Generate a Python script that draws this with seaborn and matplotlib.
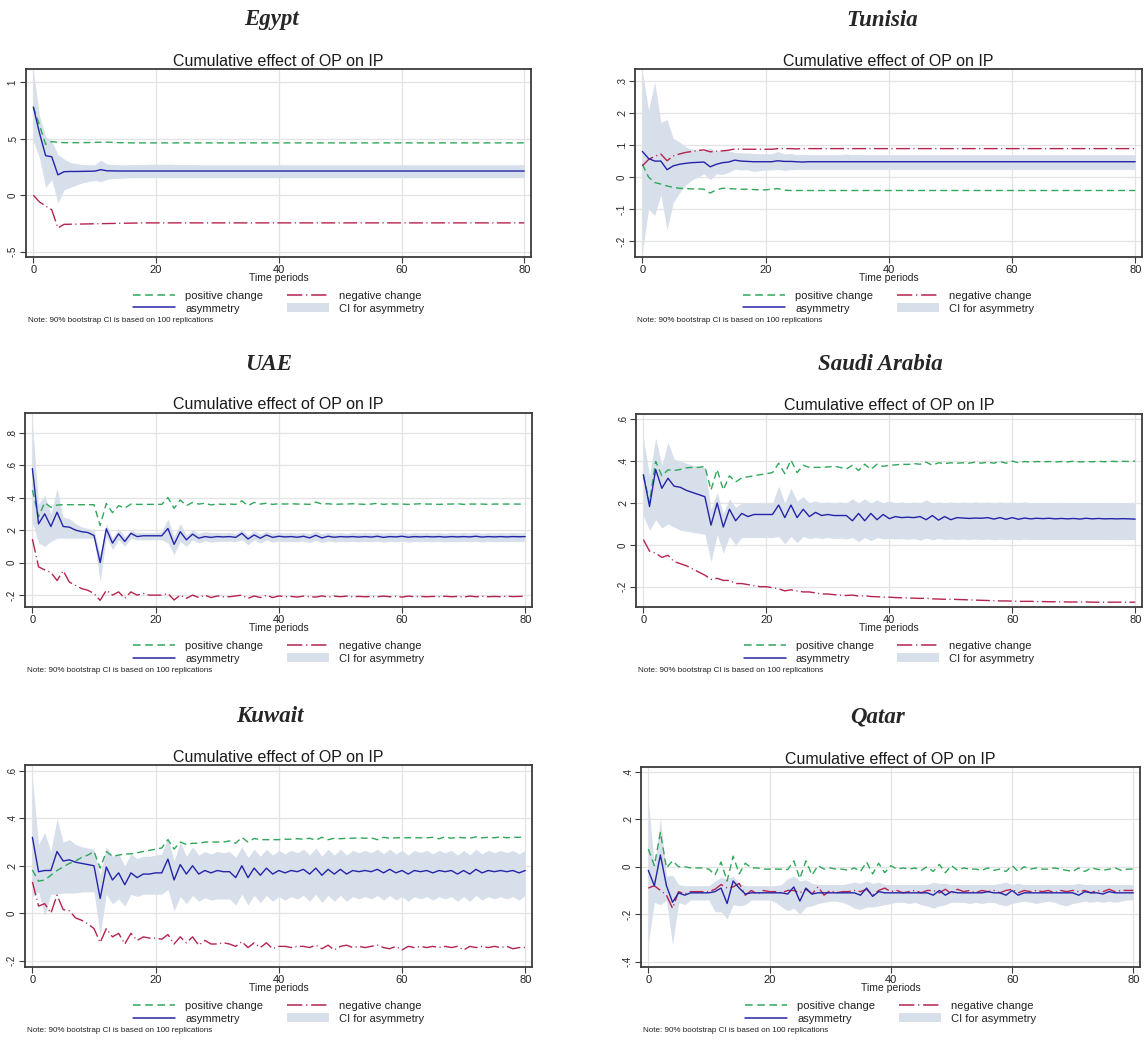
import matplotlib
matplotlib.use("Agg")
import matplotlib.pyplot as plt
import seaborn as sns
from matplotlib.lines import Line2D
from matplotlib.patches import Patch
from matplotlib.ticker import FuncFormatter, MultipleLocator

# --- Data: cumulative effect of OP on IP, periods 0..80 ---
periods = list(range(81))
countries = ["Egypt", "Tunisia", "UAE", "Saudi Arabia", "Kuwait", "Qatar"]

egypt_pos = [0.78, 0.62, 0.45, 0.475, 0.468, 0.465, 0.465, 0.465, 0.465, 0.466,
             0.467, 0.469, 0.47, 0.467, 0.465, 0.464, 0.463, 0.463, 0.463, 0.463,
             0.463, 0.463, 0.463, 0.463, 0.463, 0.463, 0.463, 0.463, 0.463, 0.463,
             0.463, 0.463, 0.463, 0.463, 0.463, 0.463, 0.463, 0.463, 0.463, 0.463,
             0.463, 0.463, 0.463, 0.463, 0.463, 0.463, 0.463, 0.463, 0.463, 0.463,
             0.463, 0.463, 0.463, 0.463, 0.463, 0.463, 0.463, 0.463, 0.463, 0.463,
             0.463, 0.463, 0.463, 0.463, 0.463, 0.463, 0.463, 0.463, 0.463, 0.463,
             0.463, 0.463, 0.463, 0.463, 0.463, 0.463, 0.463, 0.463, 0.463, 0.463,
             0.463]
egypt_neg = [0.0, -0.06, -0.095, -0.13, -0.29, -0.258, -0.257, -0.256, -0.255, -0.254,
             -0.253, -0.252, -0.251, -0.25, -0.249, -0.248, -0.247, -0.246, -0.245, -0.245,
             -0.245, -0.245, -0.245, -0.245, -0.245, -0.245, -0.245, -0.245, -0.245, -0.245,
             -0.245, -0.245, -0.245, -0.245, -0.245, -0.245, -0.245, -0.245, -0.245, -0.245,
             -0.245, -0.245, -0.245, -0.245, -0.245, -0.245, -0.245, -0.245, -0.245, -0.245,
             -0.245, -0.245, -0.245, -0.245, -0.245, -0.245, -0.245, -0.245, -0.245, -0.245,
             -0.245, -0.245, -0.245, -0.245, -0.245, -0.245, -0.245, -0.245, -0.245, -0.245,
             -0.245, -0.245, -0.245, -0.245, -0.245, -0.245, -0.245, -0.245, -0.245, -0.245,
             -0.245]
egypt_asym = [0.78, 0.55, 0.35, 0.34, 0.18, 0.208, 0.21, 0.21, 0.211, 0.212,
              0.213, 0.226, 0.216, 0.215, 0.214, 0.214, 0.214, 0.214, 0.214, 0.214,
              0.214, 0.214, 0.214, 0.214, 0.214, 0.214, 0.214, 0.214, 0.214, 0.214,
              0.214, 0.214, 0.214, 0.214, 0.214, 0.214, 0.214, 0.214, 0.214, 0.214,
              0.214, 0.214, 0.214, 0.214, 0.214, 0.214, 0.214, 0.214, 0.214, 0.214,
              0.214, 0.214, 0.214, 0.214, 0.214, 0.214, 0.214, 0.214, 0.214, 0.214,
              0.214, 0.214, 0.214, 0.214, 0.214, 0.214, 0.214, 0.214, 0.214, 0.214,
              0.214, 0.214, 0.214, 0.214, 0.214, 0.214, 0.214, 0.214, 0.214, 0.214,
              0.214]
egypt_hi = [1.1, 0.7, 0.52, 0.48, 0.36, 0.32, 0.29, 0.28, 0.272, 0.27,
            0.27, 0.31, 0.276, 0.272, 0.27, 0.27, 0.27, 0.272, 0.272, 0.274,
            0.275, 0.274, 0.275, 0.273, 0.272, 0.272, 0.271, 0.27, 0.27, 0.27,
            0.27, 0.27, 0.27, 0.27, 0.27, 0.27, 0.27, 0.27, 0.27, 0.27,
            0.27, 0.27, 0.27, 0.27, 0.27, 0.27, 0.27, 0.27, 0.27, 0.27,
            0.27, 0.27, 0.27, 0.27, 0.27, 0.27, 0.27, 0.27, 0.27, 0.27,
            0.27, 0.27, 0.27, 0.27, 0.27, 0.27, 0.27, 0.27, 0.27, 0.27,
            0.27, 0.27, 0.27, 0.27, 0.27, 0.27, 0.27, 0.27, 0.27, 0.27,
            0.27]
egypt_lo = [0.48, 0.33, 0.067, 0.14, -0.07, 0.047, 0.07, 0.09, 0.11, 0.12,
            0.13, 0.12, 0.14, 0.148, 0.15, 0.152, 0.155, 0.155, 0.155, 0.155,
            0.155, 0.155, 0.155, 0.155, 0.155, 0.155, 0.155, 0.155, 0.155, 0.155,
            0.155, 0.155, 0.155, 0.155, 0.155, 0.155, 0.155, 0.155, 0.155, 0.155,
            0.155, 0.155, 0.155, 0.155, 0.155, 0.155, 0.155, 0.155, 0.155, 0.155,
            0.155, 0.155, 0.155, 0.155, 0.155, 0.155, 0.155, 0.155, 0.155, 0.155,
            0.155, 0.155, 0.155, 0.155, 0.155, 0.155, 0.155, 0.155, 0.155, 0.155,
            0.155, 0.155, 0.155, 0.155, 0.155, 0.155, 0.155, 0.155, 0.155, 0.155,
            0.155]

tunisia_pos = [0.04, 0.0, -0.017, -0.022, -0.028, -0.032, -0.035, -0.036, -0.037, -0.037,
               -0.038, -0.05, -0.04, -0.035, -0.036, -0.037, -0.038, -0.038, -0.039, -0.04,
               -0.04, -0.038, -0.036, -0.041, -0.042, -0.042, -0.042, -0.042, -0.042, -0.042,
               -0.042, -0.042, -0.042, -0.042, -0.042, -0.042, -0.042, -0.042, -0.042, -0.042,
               -0.042, -0.042, -0.042, -0.042, -0.042, -0.042, -0.042, -0.042, -0.042, -0.042,
               -0.042, -0.042, -0.042, -0.042, -0.042, -0.042, -0.042, -0.042, -0.042, -0.042,
               -0.042, -0.042, -0.042, -0.042, -0.042, -0.042, -0.042, -0.042, -0.042, -0.042,
               -0.042, -0.042, -0.042, -0.042, -0.042, -0.042, -0.042, -0.042, -0.042, -0.042,
               -0.042]
tunisia_neg = [0.035, 0.055, 0.065, 0.072, 0.051, 0.066, 0.072, 0.077, 0.08, 0.083,
               0.085, 0.079, 0.081, 0.082, 0.084, 0.088, 0.087, 0.087, 0.087, 0.087,
               0.087, 0.087, 0.089, 0.089, 0.089, 0.088, 0.089, 0.089, 0.089, 0.089,
               0.089, 0.089, 0.089, 0.089, 0.089, 0.089, 0.089, 0.089, 0.089, 0.089,
               0.089, 0.089, 0.089, 0.089, 0.089, 0.089, 0.089, 0.089, 0.089, 0.089,
               0.089, 0.089, 0.089, 0.089, 0.089, 0.089, 0.089, 0.089, 0.089, 0.089,
               0.089, 0.089, 0.089, 0.089, 0.089, 0.089, 0.089, 0.089, 0.089, 0.089,
               0.089, 0.089, 0.089, 0.089, 0.089, 0.089, 0.089, 0.089, 0.089, 0.089,
               0.089]
tunisia_asym = [0.08, 0.058, 0.05, 0.05, 0.023, 0.035, 0.04, 0.043, 0.045, 0.046,
                0.047, 0.032, 0.04, 0.045, 0.047, 0.053, 0.05, 0.049, 0.048, 0.048,
                0.048, 0.048, 0.051, 0.049, 0.049, 0.048, 0.047, 0.048, 0.048, 0.048,
                0.048, 0.048, 0.048, 0.048, 0.048, 0.048, 0.048, 0.048, 0.048, 0.048,
                0.048, 0.048, 0.048, 0.048, 0.048, 0.048, 0.048, 0.048, 0.048, 0.048,
                0.048, 0.048, 0.048, 0.048, 0.048, 0.048, 0.048, 0.048, 0.048, 0.048,
                0.048, 0.048, 0.048, 0.048, 0.048, 0.048, 0.048, 0.048, 0.048, 0.048,
                0.048, 0.048, 0.048, 0.048, 0.048, 0.048, 0.048, 0.048, 0.048, 0.048,
                0.048]
tunisia_hi = [0.33, 0.21, 0.297, 0.171, 0.18, 0.121, 0.11, 0.095, 0.088, 0.085,
              0.082, 0.092, 0.08, 0.086, 0.082, 0.077, 0.076, 0.075, 0.074, 0.073,
              0.073, 0.073, 0.08, 0.072, 0.074, 0.07, 0.071, 0.07, 0.07, 0.07,
              0.07, 0.07, 0.07, 0.072, 0.07, 0.071, 0.07, 0.07, 0.07, 0.07,
              0.07, 0.07, 0.07, 0.07, 0.07, 0.07, 0.07, 0.07, 0.07, 0.07,
              0.07, 0.07, 0.07, 0.07, 0.07, 0.07, 0.07, 0.07, 0.07, 0.07,
              0.07, 0.07, 0.07, 0.07, 0.07, 0.07, 0.07, 0.07, 0.07, 0.07,
              0.07, 0.07, 0.07, 0.07, 0.07, 0.07, 0.07, 0.07, 0.07, 0.07,
              0.07]
tunisia_lo = [-0.234, -0.1, -0.12, -0.055, -0.165, -0.08, -0.05, -0.025, -0.01, 0.0,
              0.01, -0.008, 0.01, 0.008, 0.015, 0.025, 0.022, 0.023, 0.018, 0.02,
              0.022, 0.022, 0.024, 0.021, 0.023, 0.024, 0.024, 0.024, 0.024, 0.024,
              0.024, 0.024, 0.024, 0.024, 0.024, 0.024, 0.024, 0.024, 0.024, 0.024,
              0.024, 0.024, 0.024, 0.024, 0.024, 0.024, 0.024, 0.024, 0.024, 0.024,
              0.024, 0.024, 0.024, 0.024, 0.024, 0.024, 0.024, 0.024, 0.024, 0.024,
              0.024, 0.024, 0.024, 0.024, 0.024, 0.024, 0.024, 0.024, 0.024, 0.024,
              0.024, 0.024, 0.024, 0.024, 0.024, 0.024, 0.024, 0.024, 0.024, 0.024,
              0.024]

uae_pos = [0.446, 0.283, 0.369, 0.34, 0.354, 0.356, 0.356, 0.356, 0.356, 0.356,
           0.356, 0.228, 0.364, 0.307, 0.35, 0.335, 0.36, 0.358, 0.358, 0.358,
           0.358, 0.358, 0.40, 0.334, 0.385, 0.35, 0.37, 0.36, 0.365, 0.355,
           0.36, 0.358, 0.36, 0.358, 0.38, 0.35, 0.37, 0.36, 0.365, 0.358,
           0.362, 0.36, 0.362, 0.36, 0.36, 0.358, 0.372, 0.36, 0.362, 0.358,
           0.36, 0.36, 0.362, 0.36, 0.358, 0.36, 0.365, 0.358, 0.362, 0.36,
           0.36, 0.358, 0.36, 0.362, 0.36, 0.36, 0.358, 0.36, 0.36, 0.362,
           0.358, 0.36, 0.36, 0.36, 0.358, 0.36, 0.36, 0.36, 0.36, 0.36,
           0.36]
uae_neg = [0.145, -0.026, -0.045, -0.06, -0.11, -0.05, -0.12, -0.14, -0.16, -0.17,
           -0.19, -0.232, -0.17, -0.2, -0.18, -0.22, -0.18, -0.2, -0.19, -0.2,
           -0.2, -0.2, -0.19, -0.23, -0.2, -0.22, -0.2, -0.215, -0.2, -0.215,
           -0.205, -0.21, -0.21, -0.205, -0.2, -0.22, -0.205, -0.215, -0.2, -0.215,
           -0.205, -0.21, -0.208, -0.212, -0.206, -0.21, -0.212, -0.205, -0.212, -0.206,
           -0.21, -0.206, -0.21, -0.208, -0.21, -0.208, -0.21, -0.206, -0.21, -0.208,
           -0.212, -0.206, -0.21, -0.208, -0.21, -0.208, -0.21, -0.207, -0.21, -0.208,
           -0.212, -0.206, -0.21, -0.207, -0.21, -0.208, -0.21, -0.207, -0.209, -0.208,
           -0.207]
uae_asym = [0.578, 0.238, 0.30, 0.222, 0.31, 0.222, 0.218, 0.20, 0.19, 0.185,
            0.167, 0.0, 0.208, 0.12, 0.177, 0.13, 0.18, 0.16, 0.165, 0.165,
            0.165, 0.165, 0.21, 0.112, 0.19, 0.14, 0.175, 0.15, 0.16, 0.155,
            0.16, 0.158, 0.16, 0.155, 0.18, 0.145, 0.17, 0.15, 0.17, 0.155,
            0.162, 0.158, 0.16, 0.156, 0.162, 0.152, 0.168, 0.152, 0.162, 0.156,
            0.16, 0.158, 0.16, 0.157, 0.16, 0.157, 0.162, 0.155, 0.16, 0.158,
            0.162, 0.156, 0.16, 0.158, 0.16, 0.158, 0.16, 0.157, 0.16, 0.158,
            0.16, 0.158, 0.162, 0.157, 0.16, 0.158, 0.16, 0.158, 0.16, 0.159,
            0.16]
uae_hi = [0.86, 0.36, 0.415, 0.30, 0.456, 0.28, 0.27, 0.24, 0.22, 0.21,
          0.20, 0.05, 0.24, 0.15, 0.21, 0.16, 0.20, 0.185, 0.185, 0.185,
          0.185, 0.19, 0.27, 0.16, 0.24, 0.17, 0.20, 0.18, 0.19, 0.185,
          0.185, 0.183, 0.185, 0.18, 0.20, 0.17, 0.195, 0.175, 0.192, 0.18,
          0.186, 0.182, 0.185, 0.18, 0.186, 0.178, 0.192, 0.178, 0.186, 0.18,
          0.185, 0.18, 0.186, 0.182, 0.185, 0.182, 0.186, 0.18, 0.185, 0.182,
          0.186, 0.18, 0.185, 0.182, 0.185, 0.182, 0.185, 0.181, 0.185, 0.182,
          0.185, 0.182, 0.186, 0.181, 0.185, 0.182, 0.185, 0.182, 0.185, 0.183,
          0.185]
uae_lo = [0.25, 0.12, 0.10, 0.13, 0.15, 0.15, 0.15, 0.15, 0.15, 0.15,
          0.15, -0.12, 0.16, 0.08, 0.14, 0.10, 0.15, 0.14, 0.14, 0.14,
          0.14, 0.14, 0.12, 0.05, 0.13, 0.10, 0.14, 0.12, 0.135, 0.125,
          0.13, 0.13, 0.132, 0.128, 0.14, 0.11, 0.14, 0.12, 0.14, 0.125,
          0.132, 0.128, 0.13, 0.128, 0.134, 0.122, 0.138, 0.122, 0.133, 0.127,
          0.13, 0.128, 0.131, 0.128, 0.13, 0.128, 0.132, 0.126, 0.13, 0.128,
          0.132, 0.126, 0.13, 0.128, 0.13, 0.128, 0.13, 0.127, 0.13, 0.128,
          0.13, 0.128, 0.132, 0.127, 0.13, 0.128, 0.13, 0.128, 0.13, 0.129,
          0.13]

saudi_pos = [0.331, 0.202, 0.398, 0.33, 0.358, 0.355, 0.36, 0.368, 0.37, 0.37,
             0.375, 0.262, 0.36, 0.262, 0.33, 0.30, 0.32, 0.325, 0.33, 0.335,
             0.34, 0.345, 0.39, 0.34, 0.405, 0.345, 0.38, 0.37, 0.37, 0.37,
             0.372, 0.375, 0.37, 0.362, 0.38, 0.355, 0.385, 0.36, 0.385, 0.375,
             0.38, 0.382, 0.385, 0.384, 0.388, 0.385, 0.395, 0.38, 0.392, 0.388,
             0.392, 0.39, 0.392, 0.39, 0.395, 0.39, 0.395, 0.39, 0.398, 0.39,
             0.40, 0.392, 0.398, 0.395, 0.398, 0.396, 0.398, 0.396, 0.398, 0.396,
             0.40, 0.396, 0.398, 0.397, 0.399, 0.397, 0.399, 0.398, 0.399, 0.398,
             0.40]
saudi_neg = [0.025, -0.03, -0.04, -0.06, -0.05, -0.08, -0.09, -0.10, -0.115, -0.13,
             -0.145, -0.165, -0.16, -0.17, -0.17, -0.185, -0.185, -0.19, -0.195, -0.20,
             -0.20, -0.205, -0.21, -0.22, -0.215, -0.22, -0.225, -0.225, -0.23, -0.235,
             -0.235, -0.238, -0.24, -0.242, -0.24, -0.245, -0.243, -0.247, -0.248, -0.25,
             -0.25, -0.252, -0.253, -0.254, -0.255, -0.256, -0.255, -0.258, -0.259, -0.26,
             -0.26, -0.261, -0.262, -0.263, -0.264, -0.265, -0.266, -0.267, -0.268, -0.268,
             -0.269, -0.27, -0.27, -0.27, -0.271, -0.271, -0.272, -0.272, -0.272, -0.273,
             -0.273, -0.273, -0.273, -0.274, -0.274, -0.274, -0.274, -0.274, -0.274, -0.274,
             -0.274]
saudi_asym = [0.335, 0.183, 0.36, 0.27, 0.318, 0.28, 0.275, 0.26, 0.25, 0.24,
              0.23, 0.094, 0.20, 0.085, 0.17, 0.115, 0.15, 0.135, 0.145, 0.145,
              0.145, 0.145, 0.19, 0.13, 0.19, 0.13, 0.17, 0.135, 0.155, 0.14,
              0.145, 0.14, 0.14, 0.14, 0.115, 0.15, 0.115, 0.15, 0.12, 0.145,
              0.125, 0.135, 0.13, 0.132, 0.13, 0.135, 0.12, 0.14, 0.118, 0.135,
              0.12, 0.13, 0.128, 0.126, 0.128, 0.127, 0.13, 0.123, 0.13, 0.122,
              0.13, 0.122, 0.128, 0.124, 0.127, 0.125, 0.127, 0.124, 0.126, 0.124,
              0.126, 0.123, 0.127, 0.124, 0.126, 0.124, 0.125, 0.124, 0.125, 0.124,
              0.123]
saudi_hi = [0.51, 0.33, 0.51, 0.38, 0.49, 0.41, 0.40, 0.39, 0.38, 0.375,
            0.37, 0.17, 0.25, 0.15, 0.22, 0.18, 0.20, 0.20, 0.20, 0.20,
            0.20, 0.20, 0.28, 0.20, 0.27, 0.21, 0.23, 0.20, 0.21, 0.20,
            0.205, 0.20, 0.205, 0.20, 0.22, 0.20, 0.22, 0.20, 0.215, 0.20,
            0.21, 0.20, 0.205, 0.20, 0.205, 0.20, 0.215, 0.20, 0.205, 0.20,
            0.205, 0.20, 0.205, 0.20, 0.205, 0.20, 0.205, 0.20, 0.205, 0.20,
            0.205, 0.20, 0.205, 0.20, 0.203, 0.20, 0.203, 0.20, 0.203, 0.20,
            0.203, 0.20, 0.203, 0.20, 0.202, 0.20, 0.202, 0.20, 0.202, 0.20,
            0.20]
saudi_lo = [0.138, 0.07, 0.12, 0.08, 0.10, 0.085, 0.07, 0.065, 0.06, 0.055,
            0.05, -0.08, 0.05, -0.04, 0.04, 0.0, 0.035, 0.035, 0.035, 0.035,
            0.035, 0.035, 0.04, 0.005, 0.04, 0.01, 0.04, 0.03, 0.035, 0.03,
            0.035, 0.03, 0.032, 0.028, 0.035, 0.015, 0.035, 0.02, 0.035, 0.028,
            0.03, 0.028, 0.03, 0.026, 0.03, 0.022, 0.032, 0.024, 0.03, 0.026,
            0.028, 0.026, 0.028, 0.025, 0.028, 0.025, 0.028, 0.024, 0.027, 0.025,
            0.027, 0.024, 0.027, 0.025, 0.026, 0.025, 0.026, 0.025, 0.026, 0.025,
            0.026, 0.025, 0.026, 0.025, 0.026, 0.025, 0.025, 0.025, 0.025, 0.025,
            0.025]

kuwait_pos = [0.182, 0.135, 0.14, 0.16, 0.18, 0.195, 0.21, 0.22, 0.235, 0.245,
              0.26, 0.19, 0.26, 0.24, 0.245, 0.25, 0.25, 0.255, 0.26, 0.265,
              0.27, 0.275, 0.31, 0.27, 0.30, 0.29, 0.295, 0.295, 0.30, 0.30,
              0.30, 0.30, 0.305, 0.295, 0.32, 0.30, 0.315, 0.31, 0.31, 0.31,
              0.31, 0.312, 0.312, 0.314, 0.312, 0.316, 0.308, 0.32, 0.31, 0.316,
              0.314, 0.316, 0.316, 0.318, 0.316, 0.318, 0.31, 0.32, 0.316, 0.318,
              0.318, 0.318, 0.318, 0.318, 0.318, 0.32, 0.314, 0.322, 0.316, 0.32,
              0.318, 0.316, 0.322, 0.318, 0.32, 0.318, 0.322, 0.318, 0.32, 0.32,
              0.322]
kuwait_neg = [0.132, 0.03, 0.04, 0.0, 0.076, 0.015, 0.01, -0.02, -0.03, -0.045,
              -0.065, -0.124, -0.065, -0.10, -0.085, -0.13, -0.085, -0.115, -0.10, -0.105,
              -0.105, -0.11, -0.09, -0.13, -0.10, -0.125, -0.10, -0.135, -0.115, -0.13,
              -0.13, -0.125, -0.13, -0.14, -0.12, -0.145, -0.125, -0.145, -0.125, -0.15,
              -0.14, -0.14, -0.145, -0.14, -0.14, -0.145, -0.135, -0.15, -0.135, -0.155,
              -0.14, -0.135, -0.145, -0.14, -0.145, -0.14, -0.135, -0.145, -0.15, -0.14,
              -0.155, -0.14, -0.145, -0.14, -0.145, -0.14, -0.145, -0.14, -0.145, -0.14,
              -0.155, -0.14, -0.145, -0.14, -0.145, -0.14, -0.145, -0.14, -0.15, -0.145,
              -0.145]
kuwait_asym = [0.32, 0.175, 0.18, 0.18, 0.26, 0.22, 0.225, 0.215, 0.21, 0.205,
               0.20, 0.062, 0.195, 0.14, 0.17, 0.12, 0.17, 0.15, 0.165, 0.165,
               0.17, 0.17, 0.228, 0.14, 0.205, 0.165, 0.20, 0.165, 0.18, 0.17,
               0.18, 0.175, 0.175, 0.15, 0.20, 0.15, 0.19, 0.16, 0.19, 0.165,
               0.18, 0.17, 0.18, 0.175, 0.185, 0.165, 0.19, 0.16, 0.185, 0.165,
               0.185, 0.165, 0.18, 0.175, 0.18, 0.175, 0.185, 0.17, 0.185, 0.17,
               0.18, 0.165, 0.18, 0.175, 0.18, 0.17, 0.18, 0.175, 0.18, 0.165,
               0.18, 0.165, 0.185, 0.17, 0.18, 0.175, 0.18, 0.175, 0.18, 0.17,
               0.18]
kuwait_hi = [0.57, 0.29, 0.34, 0.26, 0.40, 0.30, 0.31, 0.29, 0.28, 0.275,
             0.27, 0.16, 0.28, 0.24, 0.25, 0.20, 0.25, 0.23, 0.24, 0.24,
             0.245, 0.25, 0.32, 0.22, 0.30, 0.24, 0.28, 0.245, 0.26, 0.25,
             0.26, 0.255, 0.26, 0.235, 0.28, 0.235, 0.27, 0.24, 0.27, 0.245,
             0.265, 0.25, 0.265, 0.255, 0.27, 0.245, 0.275, 0.24, 0.27, 0.245,
             0.27, 0.245, 0.265, 0.255, 0.265, 0.255, 0.27, 0.25, 0.27, 0.25,
             0.265, 0.245, 0.265, 0.255, 0.265, 0.25, 0.265, 0.255, 0.265, 0.245,
             0.265, 0.245, 0.27, 0.25, 0.265, 0.255, 0.265, 0.255, 0.265, 0.25,
             0.265]
kuwait_lo = [0.07, 0.09, -0.01, 0.08, 0.08, 0.085, 0.085, 0.085, 0.09, 0.09,
             0.09, -0.093, 0.08, 0.04, 0.06, 0.03, 0.08, 0.07, 0.08, 0.08,
             0.08, 0.08, 0.10, 0.01, 0.07, 0.04, 0.075, 0.05, 0.065, 0.055,
             0.06, 0.06, 0.06, 0.035, 0.08, 0.035, 0.075, 0.045, 0.075, 0.05,
             0.07, 0.055, 0.07, 0.06, 0.075, 0.05, 0.08, 0.045, 0.075, 0.05,
             0.075, 0.05, 0.07, 0.06, 0.07, 0.06, 0.075, 0.055, 0.075, 0.055,
             0.07, 0.05, 0.07, 0.06, 0.07, 0.055, 0.07, 0.06, 0.07, 0.05,
             0.07, 0.05, 0.075, 0.055, 0.07, 0.06, 0.07, 0.06, 0.07, 0.055,
             0.075]

qatar_pos = [0.075, 0.005, 0.145, -0.005, 0.025, 0.0, 0.0, -0.005, -0.005, -0.005,
             -0.01, -0.035, 0.02, -0.06, 0.045, -0.03, 0.015, -0.005, -0.005, -0.01,
             -0.01, -0.01, -0.01, -0.012, 0.025, -0.05, 0.025, -0.035, 0.005, -0.01,
             -0.005, -0.01, -0.01, -0.015, -0.005, -0.02, 0.02, -0.03, 0.015, -0.025,
             0.005, -0.01, -0.005, -0.01, -0.005, -0.015, 0.0, -0.02, 0.01, -0.025,
             0.005, -0.015, -0.005, -0.01, -0.01, -0.015, -0.005, -0.015, -0.01, -0.02,
             0.005, -0.02, 0.0, -0.01, -0.005, -0.01, -0.01, -0.005, -0.01, -0.015,
             -0.02, -0.005, -0.02, -0.005, -0.01, -0.015, -0.01, -0.005, -0.015, -0.01,
             -0.01]
qatar_neg = [-0.09, -0.08, -0.10, -0.12, -0.175, -0.105, -0.115, -0.105, -0.105, -0.105,
             -0.105, -0.095, -0.075, -0.09, -0.085, -0.07, -0.12, -0.10, -0.115, -0.10,
             -0.105, -0.105, -0.11, -0.10, -0.10, -0.11, -0.095, -0.115, -0.085, -0.12,
             -0.10, -0.11, -0.105, -0.105, -0.10, -0.105, -0.095, -0.12, -0.10, -0.09,
             -0.105, -0.10, -0.11, -0.105, -0.10, -0.11, -0.10, -0.10, -0.11, -0.095,
             -0.115, -0.095, -0.105, -0.10, -0.11, -0.10, -0.105, -0.10, -0.11, -0.10,
             -0.095, -0.11, -0.10, -0.105, -0.10, -0.105, -0.10, -0.11, -0.10, -0.105,
             -0.10, -0.105, -0.10, -0.11, -0.10, -0.105, -0.095, -0.105, -0.10, -0.10,
             -0.10]
qatar_asym = [-0.015, -0.08, 0.05, -0.08, -0.15, -0.11, -0.12, -0.11, -0.11, -0.11,
              -0.11, -0.105, -0.09, -0.155, -0.06, -0.09, -0.115, -0.11, -0.11, -0.11,
              -0.11, -0.11, -0.11, -0.115, -0.085, -0.145, -0.09, -0.115, -0.11, -0.11,
              -0.11, -0.11, -0.11, -0.11, -0.11, -0.12, -0.09, -0.125, -0.105, -0.11,
              -0.11, -0.11, -0.11, -0.11, -0.11, -0.11, -0.11, -0.12, -0.10, -0.12,
              -0.105, -0.11, -0.11, -0.11, -0.11, -0.11, -0.105, -0.11, -0.11, -0.12,
              -0.10, -0.12, -0.11, -0.11, -0.11, -0.11, -0.11, -0.11, -0.11, -0.11,
              -0.11, -0.12, -0.105, -0.11, -0.11, -0.115, -0.105, -0.11, -0.11, -0.11,
              -0.11]
qatar_hi = [0.285, 0.0, 0.205, -0.04, -0.035, -0.075, -0.08, -0.08, -0.08, -0.08,
            -0.08, -0.06, -0.045, -0.05, -0.04, -0.07, -0.08, -0.08, -0.08, -0.08,
            -0.08, -0.08, -0.075, -0.05, -0.04, -0.06, -0.055, -0.07, -0.075, -0.075,
            -0.075, -0.075, -0.075, -0.07, -0.065, -0.07, -0.06, -0.07, -0.065, -0.075,
            -0.075, -0.075, -0.075, -0.075, -0.075, -0.075, -0.075, -0.065, -0.07, -0.07,
            -0.075, -0.075, -0.075, -0.075, -0.075, -0.075, -0.075, -0.075, -0.07, -0.065,
            -0.075, -0.07, -0.075, -0.075, -0.075, -0.075, -0.075, -0.075, -0.075, -0.075,
            -0.075, -0.07, -0.075, -0.075, -0.075, -0.075, -0.075, -0.075, -0.075, -0.075,
            -0.075]
qatar_lo = [-0.325, -0.15, -0.16, -0.14, -0.33, -0.15, -0.16, -0.14, -0.14, -0.14,
            -0.14, -0.19, -0.19, -0.22, -0.16, -0.165, -0.16, -0.14, -0.14, -0.14,
            -0.14, -0.15, -0.17, -0.185, -0.175, -0.20, -0.17, -0.165, -0.155, -0.15,
            -0.145, -0.145, -0.15, -0.16, -0.175, -0.18, -0.17, -0.17, -0.165, -0.16,
            -0.155, -0.15, -0.15, -0.155, -0.15, -0.16, -0.165, -0.175, -0.165, -0.16,
            -0.15, -0.15, -0.15, -0.155, -0.15, -0.155, -0.15, -0.15, -0.16, -0.165,
            -0.155, -0.15, -0.145, -0.15, -0.155, -0.15, -0.145, -0.15, -0.16, -0.165,
            -0.155, -0.15, -0.145, -0.15, -0.145, -0.15, -0.145, -0.15, -0.145, -0.14,
            -0.14]

series = {
    "Egypt": (egypt_pos, egypt_neg, egypt_asym, egypt_lo, egypt_hi),
    "Tunisia": (tunisia_pos, tunisia_neg, tunisia_asym, tunisia_lo, tunisia_hi),
    "UAE": (uae_pos, uae_neg, uae_asym, uae_lo, uae_hi),
    "Saudi Arabia": (saudi_pos, saudi_neg, saudi_asym, saudi_lo, saudi_hi),
    "Kuwait": (kuwait_pos, kuwait_neg, kuwait_asym, kuwait_lo, kuwait_hi),
    "Qatar": (qatar_pos, qatar_neg, qatar_asym, qatar_lo, qatar_hi),
}
for name, arrs in series.items():
    assert all(len(a) == len(periods) for a in arrs), name

# --- Layout (pixels): axes box left, top, right, bottom; y range; y tick step ---
layout = {
    "Egypt":        dict(box=(26, 69, 531, 257),   ylim=(-0.547, 1.117), ystep=0.5, title_x=272),
    "Tunisia":      dict(box=(635, 69, 1142, 257), ylim=(-0.25, 0.338),  ystep=0.1, title_x=882),
    "UAE":          dict(box=(25, 413, 532, 607),  ylim=(-0.273, 0.92),  ystep=0.2, title_x=269),
    "Saudi Arabia": dict(box=(636, 414, 1142, 607), ylim=(-0.297, 0.625), ystep=0.2, title_x=880),
    "Kuwait":       dict(box=(25, 765, 532, 967),  ylim=(-0.227, 0.625), ystep=0.2, title_x=270),
    "Qatar":        dict(box=(641, 767, 1140, 967), ylim=(-0.423, 0.421), ystep=0.2, title_x=878),
}
country_title_y = {"Egypt": 20, "Tunisia": 20, "UAE": 364, "Saudi Arabia": 364, "Kuwait": 717, "Qatar": 717}

C_POS = "#2fa85a"
C_NEG = "#b5234f"
C_ASY = "#2424a8"
C_CI = "#d7dfeb"
POS_DASH = (0, (5, 3))
NEG_DASH = (0, (10, 2.5, 0.8, 2.5))

sns.set_theme(style="white")
plt.rcParams['font.family'] = ['Liberation Sans', 'DejaVu Sans']

W, H = 1144, 1041
fig = plt.figure(figsize=(W / 100, H / 100), dpi=100)


def stata_fmt(v, _):
    s = f"{round(v, 6):g}"
    if s.startswith("0."):
        s = s[1:]
    elif s.startswith("-0."):
        s = "-" + s[2:]
    return s


legend_handles = [
    Line2D([], [], color=C_POS, lw=1.1, linestyle=POS_DASH),
    Line2D([], [], color=C_ASY, lw=1.1),
    Line2D([], [], color=C_NEG, lw=1.1, linestyle=NEG_DASH),
    Patch(facecolor=C_CI, edgecolor="none"),
]
legend_labels = ["positive change", "asymmetry", "negative change", "CI for asymmetry"]

for name in countries:
    pos, neg, asym, lo, hi = series[name]
    lay = layout[name]
    l, t, r, b = lay["box"]
    ax = fig.add_axes([l / W, 1 - b / H, (r - l) / W, (b - t) / H])
    cx = (l + r) / 2

    ax.fill_between(periods, lo, hi, color=C_CI, lw=0, zorder=1)
    sns.lineplot(x=periods, y=pos, ax=ax, color=C_POS, lw=1.0, linestyle=POS_DASH, zorder=3)
    sns.lineplot(x=periods, y=neg, ax=ax, color=C_NEG, lw=1.0, linestyle=NEG_DASH, zorder=3)
    sns.lineplot(x=periods, y=asym, ax=ax, color=C_ASY, lw=1.0, zorder=4)

    ax.set_xlim(-1.2, 81.1)
    ax.set_ylim(*lay["ylim"])
    ax.xaxis.set_major_locator(MultipleLocator(20))
    ax.yaxis.set_major_locator(MultipleLocator(lay["ystep"]))
    ax.yaxis.set_major_formatter(FuncFormatter(stata_fmt))
    ax.grid(True, color="#e3e3e3", lw=0.9)
    ax.set_axisbelow(True)
    for sp in ax.spines.values():
        sp.set_color("#3c3c3c")
        sp.set_linewidth(1.3)
    ax.tick_params(axis="both", direction="out", length=4, width=0.8, color="#3c3c3c",
                   bottom=True, left=True, labelcolor="#222222")
    ax.tick_params(axis="x", labelsize=8, pad=1.5)
    ax.tick_params(axis="y", labelsize=7, pad=2)
    for lab in ax.get_yticklabels():
        lab.set_rotation(90)
        lab.set_va("center")
    ax.set_xlabel("Time periods", fontsize=7.5, labelpad=-1, color="#222222")
    ax.set_ylabel("")

    # inner graph title and country heading
    fig.text(cx / W, 1 - (t - 8) / H, "Cumulative effect of OP on IP", ha="center", va="center",
             fontsize=11.5, color="#1a1a1a")
    fig.text(lay["title_x"] / W, 1 - country_title_y[name] / H, name, ha="center", va="center",
             fontsize=16.5, fontweight="bold", fontstyle="italic",
             family=["Liberation Serif", "DejaVu Serif"])

    fig.legend(legend_handles, legend_labels, loc="upper center",
               bbox_to_anchor=(cx / W, 1 - (b + 28) / H), bbox_transform=fig.transFigure,
               ncol=2, frameon=False, fontsize=8, handlelength=3.8, handleheight=0.8,
               handletextpad=0.9, columnspacing=2.1, labelspacing=0.25, borderpad=0,
               labelcolor="#222222")
    fig.text((l + 2) / W, 1 - (b + 63) / H, "Note: 90% bootstrap CI is based on 100 replications",
             ha="left", va="center", fontsize=5.8, color="#222222")

fig.savefig("out.png", dpi=100)
